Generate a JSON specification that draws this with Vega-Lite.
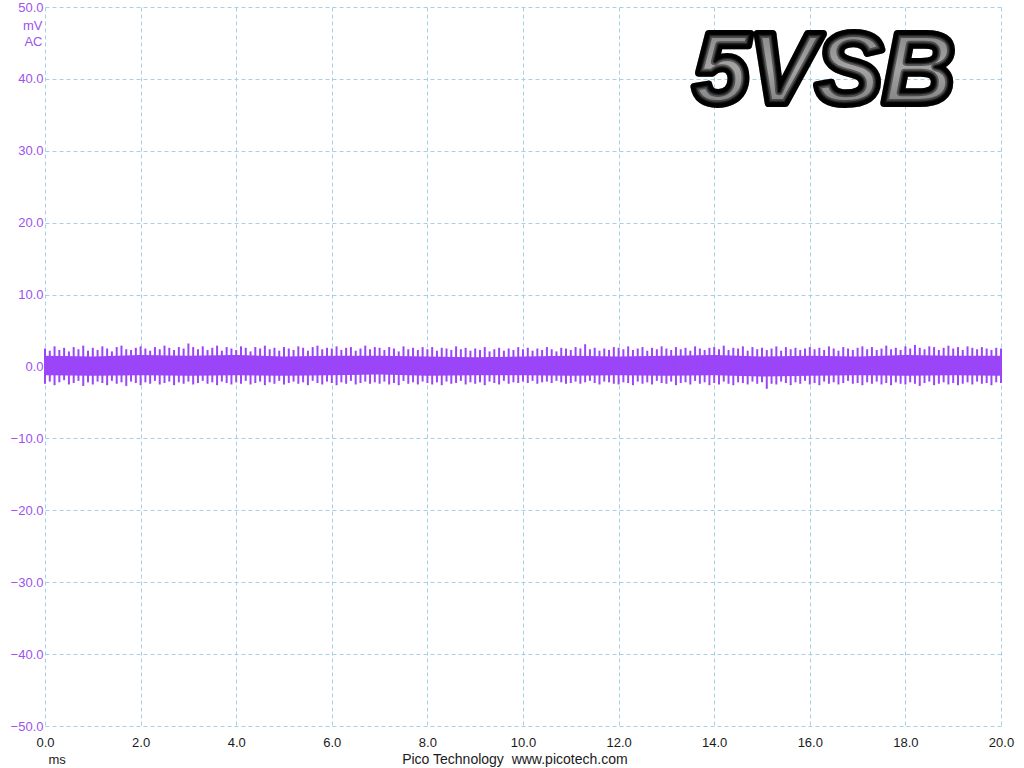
{
  "$schema": "https://vega.github.io/schema/vega-lite/v6.json",
  "description": "PicoScope capture of 5VSB ripple, AC coupled",
  "width": 956,
  "height": 719,
  "autosize": "none",
  "padding": {"left": 45, "top": 7, "right": 23, "bottom": 42},
  "background": "white",
  "datasets": {
    "core": [
      {"t":0,"v":-1.2,"v2":1.5},{"t":1,"v":-1.3,"v2":1.4},{"t":2,"v":-1.2,"v2":1.6},{"t":3,"v":-1.3,"v2":1.5},
      {"t":4,"v":-1.2,"v2":1.6},{"t":5,"v":-1.3,"v2":1.4},{"t":6,"v":-1.2,"v2":1.5},{"t":7,"v":-1.1,"v2":1.5},
      {"t":8,"v":-1.3,"v2":1.4},{"t":9,"v":-1.2,"v2":1.3},{"t":10,"v":-1.2,"v2":1.4},{"t":11,"v":-1.3,"v2":1.5},
      {"t":12,"v":-1.2,"v2":1.4},{"t":13,"v":-1.3,"v2":1.5},{"t":14,"v":-1.2,"v2":1.6},{"t":15,"v":-1.4,"v2":1.4},
      {"t":16,"v":-1.3,"v2":1.5},{"t":17,"v":-1.2,"v2":1.4},{"t":18,"v":-1.3,"v2":1.6},{"t":19,"v":-1.2,"v2":1.5},
      {"t":20,"v":-1.3,"v2":1.5}
    ],
    "spikes": [
      {"t":0.0,"v":-2.4,"v2":2.5},{"t":0.1,"v":-2.1,"v2":2.2},{"t":0.2,"v":-2.6,"v2":2.8},{"t":0.3,"v":-2.2,"v2":2.3},{"t":0.4,"v":-1.9,"v2":2.6},
      {"t":0.5,"v":-2.5,"v2":2.1},{"t":0.6,"v":-2.3,"v2":2.7},{"t":0.7,"v":-2.0,"v2":2.4},{"t":0.8,"v":-2.7,"v2":2.9},{"t":0.9,"v":-2.2,"v2":2.2},
      {"t":1.0,"v":-2.5,"v2":2.6},{"t":1.1,"v":-2.1,"v2":2.3},{"t":1.2,"v":-2.3,"v2":2.8},{"t":1.3,"v":-2.6,"v2":2.5},{"t":1.4,"v":-2.0,"v2":2.1},
      {"t":1.5,"v":-2.4,"v2":2.7},{"t":1.6,"v":-2.2,"v2":2.9},{"t":1.7,"v":-2.7,"v2":2.4},{"t":1.8,"v":-2.1,"v2":2.3},{"t":1.9,"v":-2.3,"v2":2.6},
      {"t":2.0,"v":-2.6,"v2":2.8},{"t":2.1,"v":-2.2,"v2":2.5},{"t":2.2,"v":-2.4,"v2":2.2},{"t":2.3,"v":-2.0,"v2":2.7},{"t":2.4,"v":-2.5,"v2":2.4},
      {"t":2.5,"v":-2.3,"v2":2.9},{"t":2.6,"v":-2.1,"v2":2.6},{"t":2.7,"v":-2.6,"v2":2.3},{"t":2.8,"v":-2.2,"v2":2.7},{"t":2.9,"v":-2.4,"v2":2.5},
      {"t":3.0,"v":-2.1,"v2":3.2},{"t":3.1,"v":-2.5,"v2":2.7},{"t":3.2,"v":-2.3,"v2":2.4},{"t":3.3,"v":-2.0,"v2":2.8},{"t":3.4,"v":-2.4,"v2":2.3},
      {"t":3.5,"v":-2.2,"v2":2.6},{"t":3.6,"v":-2.6,"v2":2.9},{"t":3.7,"v":-2.1,"v2":2.2},{"t":3.8,"v":-2.3,"v2":2.7},{"t":3.9,"v":-2.5,"v2":2.5},
      {"t":4.0,"v":-2.2,"v2":2.3},{"t":4.1,"v":-2.4,"v2":2.8},{"t":4.2,"v":-2.0,"v2":2.6},{"t":4.3,"v":-2.5,"v2":2.1},{"t":4.4,"v":-2.3,"v2":2.7},
      {"t":4.5,"v":-2.1,"v2":2.5},{"t":4.6,"v":-2.6,"v2":2.9},{"t":4.7,"v":-2.2,"v2":2.4},{"t":4.8,"v":-2.4,"v2":2.6},{"t":4.9,"v":-2.0,"v2":2.2},
      {"t":5.0,"v":-2.5,"v2":2.7},{"t":5.1,"v":-2.3,"v2":2.5},{"t":5.2,"v":-2.1,"v2":2.3},{"t":5.3,"v":-2.4,"v2":2.8},{"t":5.4,"v":-2.2,"v2":2.6},
      {"t":5.5,"v":-2.6,"v2":2.2},{"t":5.6,"v":-2.0,"v2":2.7},{"t":5.7,"v":-2.3,"v2":2.9},{"t":5.8,"v":-2.5,"v2":2.4},{"t":5.9,"v":-2.1,"v2":2.6},
      {"t":6.0,"v":-2.3,"v2":2.5},{"t":6.1,"v":-2.6,"v2":2.8},{"t":6.2,"v":-2.2,"v2":2.3},{"t":6.3,"v":-2.4,"v2":2.6},{"t":6.4,"v":-2.0,"v2":2.7},
      {"t":6.5,"v":-2.5,"v2":2.2},{"t":6.6,"v":-2.3,"v2":2.5},{"t":6.7,"v":-2.1,"v2":2.9},{"t":6.8,"v":-2.4,"v2":2.4},{"t":6.9,"v":-2.2,"v2":2.7},
      {"t":7.0,"v":-2.4,"v2":2.6},{"t":7.1,"v":-2.1,"v2":2.3},{"t":7.2,"v":-2.5,"v2":2.7},{"t":7.3,"v":-2.3,"v2":2.5},{"t":7.4,"v":-2.6,"v2":2.1},
      {"t":7.5,"v":-2.0,"v2":2.8},{"t":7.6,"v":-2.4,"v2":2.4},{"t":7.7,"v":-2.2,"v2":2.6},{"t":7.8,"v":-2.5,"v2":2.3},{"t":7.9,"v":-2.1,"v2":2.7},
      {"t":8.0,"v":-2.3,"v2":2.4},{"t":8.1,"v":-2.5,"v2":2.7},{"t":8.2,"v":-2.2,"v2":2.2},{"t":8.3,"v":-2.6,"v2":2.6},{"t":8.4,"v":-2.1,"v2":2.5},
      {"t":8.5,"v":-2.4,"v2":2.3},{"t":8.6,"v":-2.3,"v2":2.8},{"t":8.7,"v":-2.0,"v2":2.4},{"t":8.8,"v":-2.5,"v2":2.6},{"t":8.9,"v":-2.2,"v2":2.2},
      {"t":9.0,"v":-2.4,"v2":2.5},{"t":9.1,"v":-2.2,"v2":2.3},{"t":9.2,"v":-2.6,"v2":2.7},{"t":9.3,"v":-2.1,"v2":2.1},{"t":9.4,"v":-2.3,"v2":2.4},
      {"t":9.5,"v":-2.5,"v2":2.6},{"t":9.6,"v":-2.0,"v2":2.2},{"t":9.7,"v":-2.4,"v2":2.5},{"t":9.8,"v":-2.2,"v2":2.3},{"t":9.9,"v":-2.3,"v2":2.7},
      {"t":10.0,"v":-2.1,"v2":2.4},{"t":10.1,"v":-2.3,"v2":2.6},{"t":10.2,"v":-2.0,"v2":2.2},{"t":10.3,"v":-2.4,"v2":2.5},{"t":10.4,"v":-2.2,"v2":2.3},
      {"t":10.5,"v":-2.1,"v2":2.7},{"t":10.6,"v":-2.3,"v2":2.4},{"t":10.7,"v":-2.0,"v2":2.1},{"t":10.8,"v":-2.2,"v2":2.6},{"t":10.9,"v":-2.4,"v2":2.5},
      {"t":11.0,"v":-2.3,"v2":2.3},{"t":11.1,"v":-2.1,"v2":2.7},{"t":11.2,"v":-2.4,"v2":2.5},{"t":11.3,"v":-2.2,"v2":3.1},{"t":11.4,"v":-2.0,"v2":2.4},
      {"t":11.5,"v":-2.3,"v2":2.6},{"t":11.6,"v":-2.5,"v2":2.2},{"t":11.7,"v":-2.1,"v2":2.5},{"t":11.8,"v":-2.2,"v2":2.3},{"t":11.9,"v":-2.4,"v2":2.7},
      {"t":12.0,"v":-2.5,"v2":2.6},{"t":12.1,"v":-2.2,"v2":2.4},{"t":12.2,"v":-2.3,"v2":2.8},{"t":12.3,"v":-2.6,"v2":2.3},{"t":12.4,"v":-2.1,"v2":2.5},
      {"t":12.5,"v":-2.4,"v2":2.7},{"t":12.6,"v":-2.2,"v2":2.2},{"t":12.7,"v":-2.5,"v2":2.6},{"t":12.8,"v":-2.0,"v2":2.4},{"t":12.9,"v":-2.3,"v2":2.8},
      {"t":13.0,"v":-2.4,"v2":2.5},{"t":13.1,"v":-2.1,"v2":2.3},{"t":13.2,"v":-2.6,"v2":2.7},{"t":13.3,"v":-2.3,"v2":2.4},{"t":13.4,"v":-2.2,"v2":2.6},
      {"t":13.5,"v":-2.5,"v2":2.2},{"t":13.6,"v":-2.0,"v2":2.8},{"t":13.7,"v":-2.4,"v2":2.5},{"t":13.8,"v":-2.2,"v2":2.3},{"t":13.9,"v":-2.6,"v2":2.6},
      {"t":14.0,"v":-2.3,"v2":2.7},{"t":14.1,"v":-2.5,"v2":2.4},{"t":14.2,"v":-2.1,"v2":2.9},{"t":14.3,"v":-2.4,"v2":2.3},{"t":14.4,"v":-2.6,"v2":2.6},
      {"t":14.5,"v":-2.2,"v2":2.5},{"t":14.6,"v":-2.3,"v2":2.8},{"t":14.7,"v":-2.5,"v2":2.2},{"t":14.8,"v":-2.1,"v2":2.7},{"t":14.9,"v":-2.4,"v2":2.4},
      {"t":15.0,"v":-2.2,"v2":2.6},{"t":15.1,"v":-3.1,"v2":2.3},{"t":15.2,"v":-2.4,"v2":2.5},{"t":15.3,"v":-2.5,"v2":2.8},{"t":15.4,"v":-2.1,"v2":2.2},
      {"t":15.5,"v":-2.3,"v2":2.7},{"t":15.6,"v":-2.6,"v2":2.4},{"t":15.7,"v":-2.2,"v2":2.6},{"t":15.8,"v":-2.4,"v2":2.3},{"t":15.9,"v":-2.0,"v2":2.5},
      {"t":16.0,"v":-2.5,"v2":2.7},{"t":16.1,"v":-2.3,"v2":2.4},{"t":16.2,"v":-2.6,"v2":2.6},{"t":16.3,"v":-2.1,"v2":2.3},{"t":16.4,"v":-2.4,"v2":2.8},
      {"t":16.5,"v":-2.2,"v2":2.5},{"t":16.6,"v":-2.5,"v2":2.2},{"t":16.7,"v":-2.3,"v2":2.7},{"t":16.8,"v":-2.0,"v2":2.5},{"t":16.9,"v":-2.4,"v2":2.3},
      {"t":17.0,"v":-2.3,"v2":2.6},{"t":17.1,"v":-2.6,"v2":2.8},{"t":17.2,"v":-2.2,"v2":2.4},{"t":17.3,"v":-2.4,"v2":2.7},{"t":17.4,"v":-2.1,"v2":2.3},
      {"t":17.5,"v":-2.5,"v2":2.5},{"t":17.6,"v":-2.3,"v2":2.9},{"t":17.7,"v":-2.6,"v2":2.4},{"t":17.8,"v":-2.2,"v2":2.6},{"t":17.9,"v":-2.4,"v2":2.3},
      {"t":18.0,"v":-2.5,"v2":2.8},{"t":18.1,"v":-2.2,"v2":2.5},{"t":18.2,"v":-2.4,"v2":3.0},{"t":18.3,"v":-2.7,"v2":2.6},{"t":18.4,"v":-2.3,"v2":2.4},
      {"t":18.5,"v":-2.1,"v2":2.8},{"t":18.6,"v":-2.6,"v2":2.7},{"t":18.7,"v":-2.4,"v2":2.3},{"t":18.8,"v":-2.2,"v2":2.6},{"t":18.9,"v":-2.5,"v2":2.9},
      {"t":19.0,"v":-2.3,"v2":2.5},{"t":19.1,"v":-2.6,"v2":2.7},{"t":19.2,"v":-2.4,"v2":2.3},{"t":19.3,"v":-2.2,"v2":2.8},{"t":19.4,"v":-2.5,"v2":2.6},
      {"t":19.5,"v":-2.1,"v2":2.4},{"t":19.6,"v":-2.4,"v2":2.7},{"t":19.7,"v":-2.3,"v2":2.5},{"t":19.8,"v":-2.6,"v2":2.3},{"t":19.9,"v":-2.2,"v2":2.6},
      {"t":20.0,"v":-2.3,"v2":2.5}
    ],
    "credit": [{"t":9.83,"v":-54.7,"label":"Pico Technology\u00a0\u00a0www.picotech.com"}],
    "badge": [{"t":16.3,"v":36.6,"label":"5VSB"}]
  },
  "encoding": {
    "x": {
      "field": "t",
      "type": "quantitative",
      "scale": {"domain": [0, 20], "nice": false, "zero": false},
      "axis": {
        "values": [0, 2, 4, 6, 8, 10, 12, 14, 16, 18, 20],
        "format": ".1f",
        "domain": false,
        "ticks": false,
        "labelFlush": false,
        "labelPadding": 10,
        "labelFontSize": 13,
        "labelColor": "#1a1a1a",
        "title": "ms",
        "titleAlign": "left",
        "titleBaseline": "top",
        "titleX": 3,
        "titleY": 27,
        "titleFontSize": 13,
        "titleFontWeight": "normal",
        "titleColor": "#1a1a1a"
      }
    },
    "y": {
      "field": "v",
      "type": "quantitative",
      "scale": {"domain": [-50, 50], "nice": false},
      "axis": {
        "values": [-50, -40, -30, -20, -10, 0, 10, 20, 30, 40, 50],
        "format": ".1f",
        "domain": false,
        "ticks": false,
        "labelFlush": false,
        "labelPadding": 2,
        "labelFontSize": 13,
        "labelColor": "#9d52ee",
        "title": ["mV", "AC"],
        "titleAngle": 0,
        "titleAlign": "right",
        "titleBaseline": "top",
        "titleX": -3,
        "titleY": 12,
        "titleLineHeight": 16,
        "titleFontSize": 13,
        "titleFontWeight": "normal",
        "titleColor": "#9d52ee"
      }
    }
  },
  "layer": [
    {
      "data": {"name": "core"},
      "mark": {"type": "area", "color": "#9b45f8", "opacity": 1},
      "encoding": {"y2": {"field": "v2"}}
    },
    {
      "data": {"name": "spikes"},
      "mark": {"type": "rule", "color": "#9b45f8", "strokeWidth": 2},
      "encoding": {"y2": {"field": "v2"}}
    },
    {
      "data": {"name": "credit"},
      "mark": {"type": "text", "fontSize": 14, "color": "#1a1a1a", "align": "center", "baseline": "middle"},
      "encoding": {"text": {"field": "label"}}
    },
    {
      "data": {"name": "badge"},
      "mark": {"type": "text", "fontSize": 100, "fontStyle": "italic", "fontWeight": "bold", "align": "center", "baseline": "alphabetic", "fill": "#050505", "stroke": "#050505", "strokeWidth": 8, "strokeJoin": "round"},
      "encoding": {"text": {"field": "label"}}
    },
    {
      "data": {"name": "badge"},
      "mark": {"type": "text", "fontSize": 100, "fontStyle": "italic", "fontWeight": "bold", "align": "center", "baseline": "alphabetic",
        "fill": {"gradient": "linear", "x1": 0, "y1": 0, "x2": 0, "y2": 1,
          "stops": [{"offset": 0, "color": "#7a7a7a"}, {"offset": 0.5, "color": "#a4a4a4"}, {"offset": 1, "color": "#707070"}]}},
      "encoding": {"text": {"field": "label"}}
    },
    {
      "data": {"name": "badge"},
      "mark": {"type": "text", "fontSize": 100, "fontStyle": "italic", "fontWeight": "bold", "align": "center", "baseline": "alphabetic", "fill": "transparent", "stroke": "#000000", "strokeOpacity": 0.45, "strokeWidth": 8, "strokeJoin": "round"},
      "encoding": {"text": {"field": "label"}}
    },
    {
      "data": {"name": "badge"},
      "mark": {"type": "text", "fontSize": 100, "fontStyle": "italic", "fontWeight": "bold", "align": "center", "baseline": "alphabetic", "fill": "transparent", "stroke": "#000000", "strokeOpacity": 0.55, "strokeWidth": 4.5, "strokeJoin": "round"},
      "encoding": {"text": {"field": "label"}}
    },
    {
      "data": {"name": "badge"},
      "mark": {"type": "text", "fontSize": 100, "fontStyle": "italic", "fontWeight": "bold", "align": "center", "baseline": "alphabetic", "fill": "transparent", "stroke": "#000000", "strokeOpacity": 0.8, "strokeWidth": 2, "strokeJoin": "round"},
      "encoding": {"text": {"field": "label"}}
    }
  ],
  "config": {
    "font": "Liberation Sans",
    "view": {"stroke": null},
    "axis": {"grid": true, "gridColor": "#a6d0e6", "gridDash": [4, 3], "gridWidth": 1, "gridOpacity": 1}
  }
}
